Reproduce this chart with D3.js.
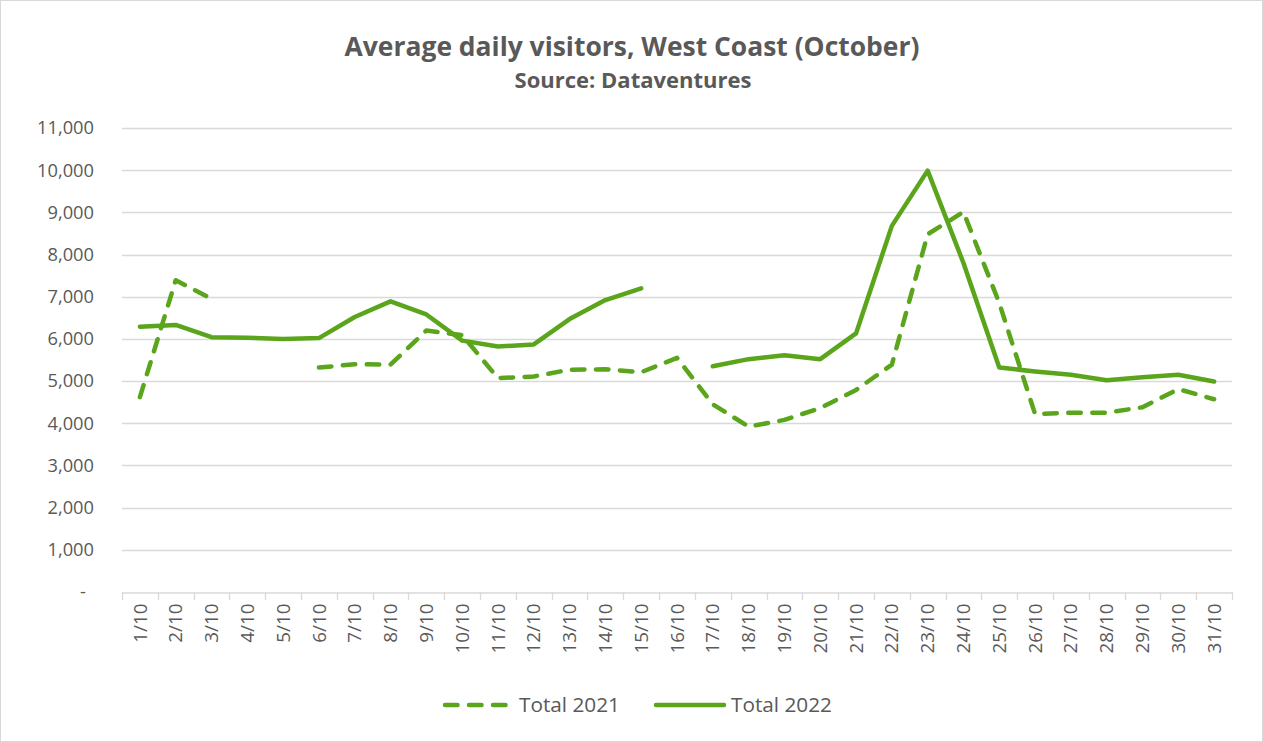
<!DOCTYPE html>
<html><head><meta charset="utf-8">
<script src="https://cdn.jsdelivr.net/npm/d3@7"></script>
<style>
body{margin:0;background:#fff;}
svg{display:block;font-family:"Open Sans",sans-serif;}
</style></head><body>
<svg id="chart" width="1263" height="742"></svg>
<script>
const categories = ["1/10","2/10","3/10","4/10","5/10","6/10","7/10","8/10","9/10","10/10","11/10","12/10","13/10","14/10","15/10","16/10","17/10","18/10","19/10","20/10","21/10","22/10","23/10","24/10","25/10","26/10","27/10","28/10","29/10","30/10","31/10"];
const total2021 = [4620,7390,6950,null,null,5320,5400,5390,6200,6090,5070,5110,5270,5280,5210,5550,4450,3920,4080,4360,4790,5390,8480,9010,6850,4220,4250,4250,4380,4810,4570];
const total2022 = [6290,6330,6040,6030,6000,6020,6520,6890,6580,5960,5820,5870,6470,6920,7200,null,5350,5520,5610,5520,6130,8680,9990,7800,5320,5230,5150,5020,5090,5150,4990];
const yTicks = [0,1000,2000,3000,4000,5000,6000,7000,8000,9000,10000,11000];
const titleText = "Average daily visitors, West Coast (October)";
const subtitleText = "Source: Dataventures";
const seriesNames = ["Total 2021","Total 2022"];

const svg = d3.select("#chart");
const W = 1263, H = 742;
const m = {left:122, right:1232, top:128, bottom:592};
const green = "#5aa51c", textCol = "#595959", gridCol = "#d9d9d9";
const FONT = "'Open Sans', sans-serif";

// pick a font size so that a sample string has the wanted width
function fitSize(sample, width, weight){
  const t = svg.append("text").attr("font-family",FONT).attr("font-weight",weight||"normal")
    .attr("font-size",100).text(sample);
  const w = t.node().getComputedTextLength();
  t.remove();
  return 100*width/w;
}

svg.append("rect").attr("x",0.5).attr("y",0.5).attr("width",W-1).attr("height",H-1)
  .attr("fill","#fff").attr("stroke",gridCol);

const x = d3.scaleBand().domain(categories).range([m.left,m.right]);
const y = d3.scaleLinear().domain([0,11000]).range([m.bottom,m.top]);

// gridlines
svg.append("g").selectAll("line").data(yTicks.filter(d=>d>0)).join("line")
  .attr("x1",m.left).attr("x2",m.right)
  .attr("y1",d=>Math.round(y(d))+0.5).attr("y2",d=>Math.round(y(d))+0.5)
  .attr("stroke",gridCol).attr("stroke-width",1.3);

// y axis labels
const ySize = fitSize("11,000", 57);
const yAxis = d3.axisLeft(y).tickValues(yTicks).tickSize(0)
  .tickFormat(d=> d===0 ? "-" : d3.format(",")(d));
const gy = svg.append("g").attr("transform",`translate(${m.left},0)`).call(yAxis);
gy.select(".domain").remove();
gy.selectAll("text").attr("fill",textCol).attr("font-size",ySize).attr("font-family",FONT)
  .attr("x",-28);
gy.selectAll("text").filter(d=>d===0).attr("x",-36);

// x axis
const xSize = fitSize("10/10", 50);
const xAxis = d3.axisBottom(x).tickSize(0).tickPadding(0);
const gx = svg.append("g").attr("transform",`translate(0,${Math.round(m.bottom)+0.5})`).call(xAxis);
gx.select(".domain").attr("stroke",gridCol).attr("stroke-width",1.3);
gx.selectAll(".tick text")
  .attr("fill",textCol).attr("font-size",xSize).attr("font-family",FONT)
  .attr("text-anchor","end").attr("dy","0.35em")
  .attr("transform","translate(0,11) rotate(-90)").attr("y",0).attr("x",0);
const bounds = categories.map(c=>x(c)).concat([m.right]);
svg.append("g").selectAll("line").data(bounds).join("line")
  .attr("x1",d=>Math.round(d)+0.5).attr("x2",d=>Math.round(d)+0.5)
  .attr("y1",m.bottom).attr("y2",m.bottom+8)
  .attr("stroke",gridCol).attr("stroke-width",1.3);

// lines
const cx = c => x(c) + x.bandwidth()/2;
const line = d3.line().defined(d=>d.v!=null).x(d=>cx(d.c)).y(d=>y(d.v));
const d21 = categories.map((c,i)=>({c,v:total2021[i]}));
const d22 = categories.map((c,i)=>({c,v:total2022[i]}));
svg.append("path").datum(d22).attr("d",line).attr("fill","none")
  .attr("stroke",green).attr("stroke-width",4.5).attr("stroke-linejoin","round").attr("stroke-linecap","round");
svg.append("path").datum(d21).attr("d",line).attr("fill","none")
  .attr("stroke",green).attr("stroke-width",4.5).attr("stroke-dasharray","12.5,11.5")
  .attr("stroke-linejoin","round").attr("stroke-linecap","round");

// title
svg.append("text").attr("x",632).attr("y",56).attr("text-anchor","middle").attr("font-family",FONT)
  .attr("font-size",fitSize(titleText,575,"bold")).attr("font-weight","bold").attr("fill",textCol).text(titleText);
svg.append("text").attr("x",633).attr("y",88).attr("text-anchor","middle").attr("font-family",FONT)
  .attr("font-size",fitSize(subtitleText,237,"bold")).attr("font-weight","bold").attr("fill",textCol).text(subtitleText);

// legend
const lSize = fitSize(seriesNames[0], 101);
const lg = svg.append("g");
lg.append("line").attr("x1",445).attr("x2",506).attr("y1",705).attr("y2",705)
  .attr("stroke",green).attr("stroke-width",4.5).attr("stroke-dasharray","12.5,11.5").attr("stroke-linecap","round");
lg.append("text").attr("x",519).attr("y",712).attr("font-size",lSize).attr("font-family",FONT).attr("fill",textCol).text(seriesNames[0]);
lg.append("line").attr("x1",656).attr("x2",724).attr("y1",705).attr("y2",705)
  .attr("stroke",green).attr("stroke-width",4.5).attr("stroke-linecap","round");
lg.append("text").attr("x",731).attr("y",712).attr("font-size",lSize).attr("font-family",FONT).attr("fill",textCol).text(seriesNames[1]);
</script>
</body></html>
